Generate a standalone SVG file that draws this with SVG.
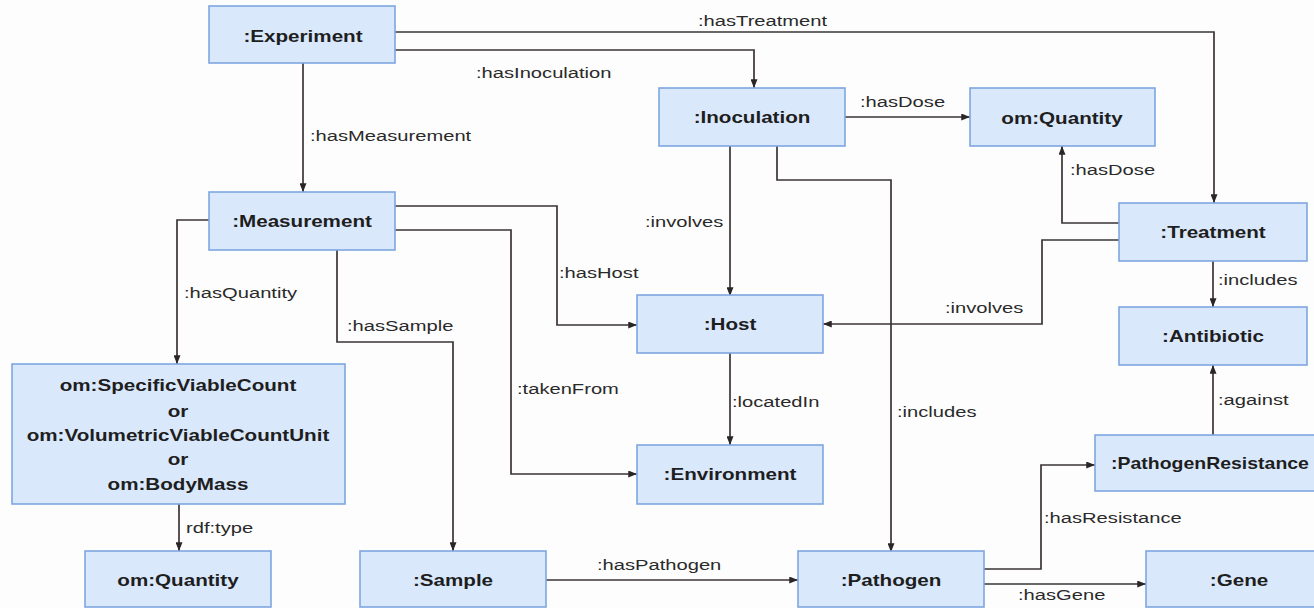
<svg xmlns="http://www.w3.org/2000/svg" width="1314" height="608" viewBox="0 0 1314 608">
  <style>
    .box { fill: #dae8fc; stroke: #7ea6e0; stroke-width: 1.6; }
    .lbl { font-family: "Liberation Sans", Arial, sans-serif; font-size: 16.5px; font-weight: bold; fill: #1e1e1e; text-anchor: middle; }
    .edge { fill: none; stroke: #3b3434; stroke-width: 1.7; marker-end: url(#arrow); }
    .elbl { font-family: "Liberation Sans", Arial, sans-serif; font-size: 15.5px; fill: #2a2a2a; }
  </style>
  <defs>
    <marker id="arrow" viewBox="0 0 10 8" refX="10" refY="4" markerWidth="9" markerHeight="7" markerUnits="userSpaceOnUse" orient="auto">
      <path d="M0,0 L10,4 L0,8 z" fill="#2b2525"/>
    </marker>
  </defs>
  <rect width="1314" height="608" fill="#fdfdfd"/>

  <!-- connectors -->
  <g id="connectors">
    <path class="edge" d="M395,32 H1214 V203"/>
    <text class="elbl" transform="translate(698,26) scale(1.3,1)">:hasTreatment</text>

    <path class="edge" d="M395,50 H754 V88"/>
    <text class="elbl" transform="translate(476,78) scale(1.3,1)">:hasInoculation</text>

    <path class="edge" d="M303,63 V192"/>
    <text class="elbl" transform="translate(310,141) scale(1.3,1)">:hasMeasurement</text>

    <path class="edge" d="M845,117 H970"/>
    <text class="elbl" transform="translate(860,107) scale(1.3,1)">:hasDose</text>

    <path class="edge" d="M1119,223 H1062 V146"/>
    <text class="elbl" transform="translate(1070,175) scale(1.3,1)">:hasDose</text>

    <path class="edge" d="M730,146 V296"/>
    <text class="elbl" transform="translate(645,227) scale(1.3,1)">:involves</text>

    <path class="edge" d="M777,146 V180 H891 V552"/>
    <text class="elbl" transform="translate(897,417) scale(1.3,1)">:includes</text>

    <path class="edge" d="M1119,240 H1042 V324 H823"/>
    <text class="elbl" transform="translate(945,313) scale(1.3,1)">:involves</text>

    <path class="edge" d="M1213,261 V307"/>
    <text class="elbl" transform="translate(1218,285) scale(1.3,1)">:includes</text>

    <path class="edge" d="M1213,435 V365"/>
    <text class="elbl" transform="translate(1218,405) scale(1.3,1)">:against</text>

    <path class="edge" d="M395,206 H557 V325 H637"/>
    <text class="elbl" transform="translate(559,278) scale(1.3,1)">:hasHost</text>

    <path class="edge" d="M395,230 H511 V474 H637"/>
    <text class="elbl" transform="translate(517,394) scale(1.3,1)">:takenFrom</text>

    <path class="edge" d="M209,220 H177 V364"/>
    <text class="elbl" transform="translate(184,298) scale(1.3,1)">:hasQuantity</text>

    <path class="edge" d="M337,250 V342 H453 V551"/>
    <text class="elbl" transform="translate(347,331) scale(1.3,1)">:hasSample</text>

    <path class="edge" d="M730,353 V445"/>
    <text class="elbl" transform="translate(732,407) scale(1.3,1)">:locatedIn</text>

    <path class="edge" d="M179,504 V551"/>
    <text class="elbl" transform="translate(186,533) scale(1.3,1)">rdf:type</text>

    <path class="edge" d="M546,580 H798"/>
    <text class="elbl" transform="translate(597,570) scale(1.3,1)">:hasPathogen</text>

    <path class="edge" d="M984,569 H1041 V465 H1095"/>
    <text class="elbl" transform="translate(1044,523) scale(1.3,1)">:hasResistance</text>

    <path class="edge" d="M984,584 H1146"/>
    <text class="elbl" transform="translate(1018,600) scale(1.3,1)">:hasGene</text>
  </g>

  <!-- nodes -->
  <g id="experiment">
    <rect class="box" x="209" y="6" width="186" height="57"/>
    <text class="lbl" transform="translate(303,42) scale(1.25,1)">:Experiment</text>
  </g>
  <g id="inoculation">
    <rect class="box" x="659" y="88" width="186" height="58"/>
    <text class="lbl" transform="translate(752,123) scale(1.25,1)">:Inoculation</text>
  </g>
  <g id="dose-quantity">
    <rect class="box" x="970" y="88" width="185" height="58"/>
    <text class="lbl" transform="translate(1062,124) scale(1.25,1)">om:Quantity</text>
  </g>
  <g id="treatment">
    <rect class="box" x="1119" y="203" width="188" height="58"/>
    <text class="lbl" transform="translate(1213,238) scale(1.25,1)">:Treatment</text>
  </g>
  <g id="measurement">
    <rect class="box" x="209" y="192" width="186" height="58"/>
    <text class="lbl" transform="translate(302,227) scale(1.25,1)">:Measurement</text>
  </g>
  <g id="host">
    <rect class="box" x="637" y="295" width="186" height="58"/>
    <text class="lbl" transform="translate(730,330) scale(1.25,1)">:Host</text>
  </g>
  <g id="antibiotic">
    <rect class="box" x="1119" y="307" width="188" height="58"/>
    <text class="lbl" transform="translate(1213,342) scale(1.25,1)">:Antibiotic</text>
  </g>
  <g id="viable-count">
    <rect class="box" x="12" y="364" width="333" height="140"/>
    <text class="lbl" transform="translate(178,391) scale(1.25,1)">om:SpecificViableCount</text>
    <text class="lbl" transform="translate(178,417) scale(1.25,1)">or</text>
    <text class="lbl" transform="translate(178,441) scale(1.25,1)">om:VolumetricViableCountUnit</text>
    <text class="lbl" transform="translate(178,465) scale(1.25,1)">or</text>
    <text class="lbl" transform="translate(178,490) scale(1.25,1)">om:BodyMass</text>
  </g>
  <g id="environment">
    <rect class="box" x="637" y="445" width="186" height="59"/>
    <text class="lbl" transform="translate(730,480) scale(1.25,1)">:Environment</text>
  </g>
  <g id="pathogen-resistance">
    <rect class="box" x="1095" y="435" width="236" height="56"/>
    <text class="lbl" transform="translate(1210,469) scale(1.18,1)">:PathogenResistance</text>
  </g>
  <g id="quantity">
    <rect class="box" x="85" y="551" width="186" height="56"/>
    <text class="lbl" transform="translate(178,586) scale(1.25,1)">om:Quantity</text>
  </g>
  <g id="sample">
    <rect class="box" x="360" y="551" width="186" height="56"/>
    <text class="lbl" transform="translate(453,586) scale(1.25,1)">:Sample</text>
  </g>
  <g id="pathogen">
    <rect class="box" x="798" y="551" width="186" height="56"/>
    <text class="lbl" transform="translate(891,586) scale(1.25,1)">:Pathogen</text>
  </g>
  <g id="gene">
    <rect class="box" x="1146" y="551" width="186" height="56"/>
    <text class="lbl" transform="translate(1239,586) scale(1.25,1)">:Gene</text>
  </g>
</svg>
